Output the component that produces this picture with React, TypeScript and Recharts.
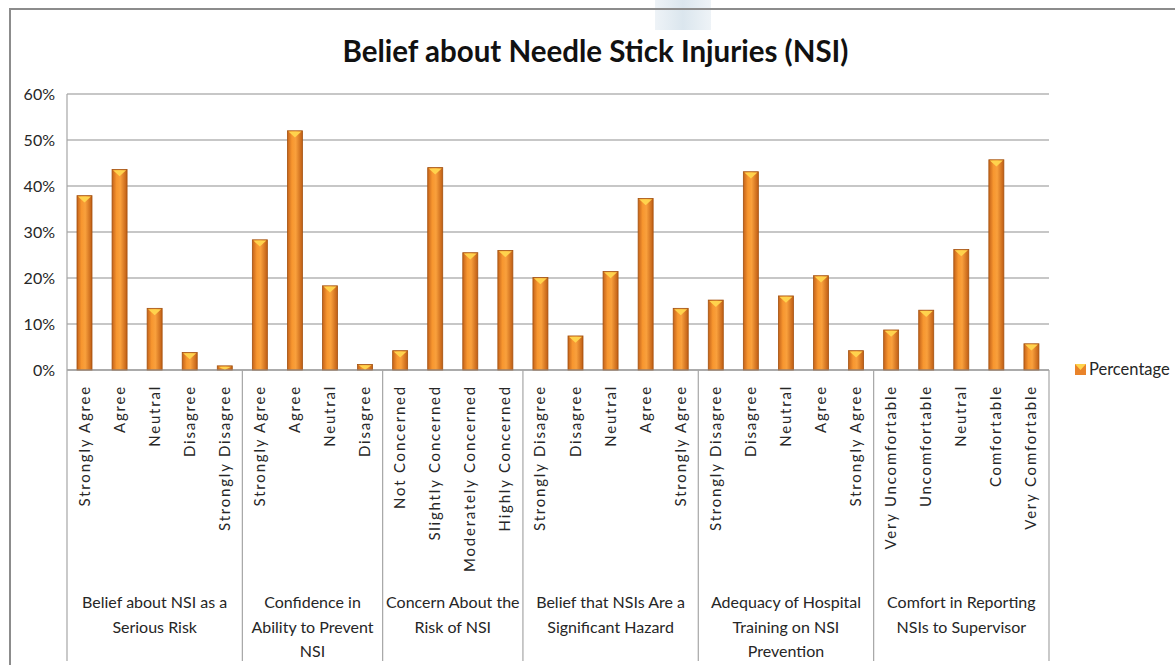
import { Bar, BarChart, CartesianGrid, Legend, XAxis, YAxis } from "recharts";

const groupSizes = [5, 4, 4, 5, 5, 5];

const groupLabels = [
  ["Belief about NSI as a", "Serious Risk"],
  ["Confidence in", "Ability to Prevent", "NSI"],
  ["Concern About the", "Risk of NSI"],
  ["Belief that NSIs Are a", "Significant Hazard"],
  ["Adequacy of Hospital", "Training on NSI", "Prevention"],
  ["Comfort in Reporting", "NSIs to Supervisor"],
];

const categories = [
  "Strongly Agree", "Agree", "Neutral", "Disagree", "Strongly Disagree",
  "Strongly Agree", "Agree", "Neutral", "Disagree",
  "Not Concerned", "Slightly Concerned", "Moderately Concerned", "Highly Concerned",
  "Strongly Disagree", "Disagree", "Neutral", "Agree", "Strongly Agree",
  "Strongly Disagree", "Disagree", "Neutral", "Agree", "Strongly Agree",
  "Very Uncomfortable", "Uncomfortable", "Neutral", "Comfortable", "Very Comfortable",
];

const percentages = [
  37.9, 43.6, 13.4, 3.8, 0.9,
  28.3, 52.0, 18.3, 1.2,
  4.2, 44.0, 25.5, 26.0,
  20.1, 7.4, 21.4, 37.3, 13.4,
  15.2, 43.1, 16.1, 20.5, 4.2,
  8.7, 13.0, 26.2, 45.7, 5.7,
];

const yTicks = [0, 10, 20, 30, 40, 50, 60];

// group index + position inside group for every category
const groupOf: number[] = [];
const posInGroup: number[] = [];
groupSizes.forEach((size, g) => {
  for (let p = 0; p < size; p++) {
    groupOf.push(g);
    posInGroup.push(p);
  }
});

const data = categories.map((label, i) => ({
  id: `c${i}`,
  label,
  value: percentages[i],
  group: groupOf[i],
  pos: posInGroup[i],
}));

const W = 1175;
const H = 665;
const MARGIN = { top: 94, right: 126, bottom: 0, left: 10 };
const Y_WIDTH = 57;
const FALLBACK_HALF = (W - MARGIN.left - MARGIN.right - Y_WIDTH) / data.length / 2;

const FONT = "Lato, 'Open Sans', sans-serif";
const TEXT = "#262626";
const LINE = "#a6a6a6";

function CategoryTick(props: any) {
  const { x, y, payload, index } = props;
  const i = payload?.index ?? index;
  const d = data[i];
  if (!d) return null;
  const half = payload?.offset || FALLBACK_HALF;
  const bottom = y + 291;
  const size = groupSizes[d.group];
  const lines = groupLabels[d.group];
  return (
    <g>
      <text
        transform={`translate(${x + 5},${y + 15}) rotate(-90)`}
        textAnchor="end"
        fontFamily={FONT}
        fontSize={15}
        letterSpacing={1.8}
        fill={TEXT}
      >
        {d.label}
      </text>
      {d.pos === 0 && (
        <>
          <line x1={x - half} x2={x - half} y1={y} y2={bottom} stroke={LINE} strokeWidth={1.2} />
          {lines.map((ln, k) => (
            <text
              key={k}
              x={x - half + size * half}
              y={y + 238 + k * 24.5}
              textAnchor="middle"
              fontFamily={FONT}
              fontSize={16}
              fill={TEXT}
            >
              {ln}
            </text>
          ))}
        </>
      )}
      {i === data.length - 1 && (
        <line x1={x + half} x2={x + half} y1={y} y2={bottom} stroke={LINE} strokeWidth={1.2} />
      )}
    </g>
  );
}

function ConeBar(props: any) {
  const { x, y, width, height } = props;
  if (!height || height <= 0) return null;
  const tri = Math.min(6, height - 1);
  return (
    <g>
      <rect x={x} y={y} width={width} height={height} fill="url(#barFill)" stroke="#a4520f" strokeWidth={0.8} />
      {tri > 0 && (
        <polygon
          points={`${x + 1},${y + 0.8} ${x + width - 1},${y + 0.8} ${x + width / 2},${y + 0.8 + tri}`}
          fill="#ffd34d"
        />
      )}
    </g>
  );
}

function LegendContent() {
  return (
    <div style={{ display: "flex", alignItems: "center", fontFamily: FONT, fontSize: 16.5, color: TEXT }}>
      <svg width={11} height={11} style={{ marginRight: 3 }}>
        <rect x={0} y={0} width={11} height={11} fill="#e9832a" />
        <polygon points="0,0 11,0 5.5,6" fill="#ffd34d" />
      </svg>
      <span>Percentage</span>
    </div>
  );
}

export default function App() {
  return (
    <div
      style={{
        position: "fixed",
        left: 0,
        top: 0,
        width: W,
        height: H,
        overflow: "hidden",
        background: "#fff",
      }}
    >
      <div
        style={{
          position: "absolute",
          left: 655,
          top: 0,
          width: 56,
          height: 30,
          background: "linear-gradient(90deg, #eef3f7, #dbe6ee, #eef3f7)",
        }}
      />
      <div
        style={{
          position: "absolute",
          left: 9,
          top: 8,
          width: 1200,
          height: 700,
          borderLeft: "2px solid #8c8c8c",
          borderTop: "2px solid #8c8c8c",
        }}
      />
      <div
        style={{
          position: "absolute",
          left: 0,
          top: 33,
          width: W,
          textAlign: "center",
          fontFamily: FONT,
          fontWeight: "bold",
          fontSize: 29.5,
          color: "#111",
          paddingLeft: 8,
        }}
      >
        Belief about Needle Stick Injuries (NSI)
      </div>
      <div style={{ position: "absolute", left: 0, top: 0 }}>
        <BarChart width={W} height={H} data={data} margin={MARGIN} barSize={15}>
          <defs>
            <linearGradient id="barFill" x1="0" y1="0" x2="1" y2="0">
              <stop offset="0%" stopColor="#c4621a" />
              <stop offset="30%" stopColor="#f7962f" />
              <stop offset="55%" stopColor="#f9a03c" />
              <stop offset="100%" stopColor="#bf5d14" />
            </linearGradient>
          </defs>
          <CartesianGrid vertical={false} stroke="#8f8f8f" strokeWidth={1.2} />
          <XAxis
            dataKey="id"
            interval={0}
            height={H - 370}
            tickLine={false}
            tickSize={0}
            tickMargin={0}
            axisLine={{ stroke: "#8f8f8f", strokeWidth: 1.2 }}
            tick={<CategoryTick />}
          />
          <YAxis
            width={Y_WIDTH}
            domain={[0, 60]}
            ticks={yTicks}
            tickFormatter={(v) => `${v}%`}
            tickLine={false}
            tickSize={0}
            tickMargin={12}
            axisLine={{ stroke: "#a6a6a6", strokeWidth: 1.2 }}
            tick={{ fontFamily: FONT, fontSize: 16, fill: TEXT }}
          />
          <Legend
            layout="horizontal"
            align="center"
            verticalAlign="middle"
            content={<LegendContent />}
            wrapperStyle={{ left: 1075, top: 359, width: 110, height: 22 }}
          />
          <Bar dataKey="value" name="Percentage" shape={<ConeBar />} isAnimationActive={false} />
        </BarChart>
      </div>
    </div>
  );
}
